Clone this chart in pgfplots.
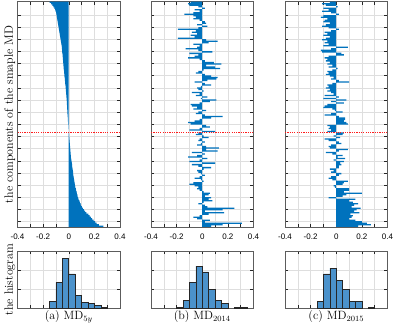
\documentclass[border=0pt]{standalone}
\usepackage{fontspec}
\newfontfamily\ticksf{Liberation Sans}
\usepackage{pgfplots}
\usepackage{pgfplotstable}
\pgfplotsset{compat=1.18}
\definecolor{matblue}{RGB}{0,114,189}
\definecolor{histblue}{RGB}{75,146,203}
\definecolor{axgray}{RGB}{38,38,38}

% components of the sample MD, top to bottom: a = 5y (sorted), b = 2014, c = 2015
\pgfplotstableread{
a b c
-0.150 -0.09 -0.05
-0.138 -0.11 -0.11
-0.128 -0.10 -0.08
-0.120 -0.03 0.01
-0.113 0.02 -0.10
-0.107 -0.06 -0.06
-0.102 -0.02 -0.11
-0.099 -0.07 -0.04
-0.097 -0.14 0.02
-0.095 -0.07 -0.10
-0.093 -0.05 -0.12
-0.091 -0.07 -0.07
-0.089 -0.02 -0.09
-0.087 0.02 -0.10
-0.085 0.03 -0.05
-0.083 -0.04 -0.08
-0.081 0.04 -0.11
-0.079 -0.03 -0.06
-0.077 -0.19 0.02
-0.075 -0.05 -0.04
-0.073 -0.08 -0.09
-0.071 -0.04 -0.07
-0.069 -0.09 -0.10
-0.067 -0.06 -0.05
-0.065 -0.19 -0.08
-0.063 0.03 -0.11
-0.061 0.12 -0.07
-0.059 0.05 -0.09
-0.057 -0.07 -0.06
-0.055 -0.02 -0.10
-0.054 -0.04 0.09
-0.053 -0.13 -0.04
-0.052 -0.03 -0.12
-0.051 0.08 -0.11
-0.049 -0.10 0.04
-0.048 -0.03 0.06
-0.047 -0.06 -0.06
-0.046 -0.11 -0.09
-0.045 -0.02 -0.07
-0.044 0.02 -0.08
-0.043 0.09 -0.05
-0.042 0.15 -0.07
-0.041 0.03 -0.03
-0.040 0.10 -0.06
-0.039 0.14 0.01
-0.038 0.01 -0.03
-0.037 -0.03 -0.07
-0.036 -0.05 -0.06
-0.035 0.02 -0.08
-0.034 0.07 -0.05
-0.033 0.12 -0.02
-0.031 0.11 -0.04
-0.030 0.04 0.02
-0.029 -0.06 0.10
-0.028 0.02 -0.03
-0.027 0.07 -0.07
-0.025 -0.01 -0.06
-0.024 -0.04 -0.08
-0.023 -0.03 -0.05
-0.022 0.01 -0.07
-0.021 -0.08 -0.04
-0.020 -0.02 -0.02
-0.019 -0.05 -0.09
-0.018 0.04 0.02
-0.017 -0.01 -0.10
-0.016 0.11 0.08
-0.015 0.06 -0.04
-0.014 -0.02 0.06
-0.014 -0.09 -0.07
-0.013 -0.08 -0.09
-0.012 -0.04 -0.10
-0.012 -0.07 -0.03
-0.011 0.03 -0.01
-0.010 -0.03 0.05
-0.010 -0.05 -0.04
-0.009 0.02 -0.09
-0.008 0.16 0.02
-0.007 0.07 0.07
-0.006 -0.02 0.07
-0.006 -0.06 0.06
-0.005 -0.11 0.08
-0.004 -0.09 0.09
-0.003 0.03 -0.07
-0.003 0.06 -0.05
-0.002 -0.02 -0.06
-0.001 -0.10 -0.04
-0.001 0.10 -0.07
0.001 -0.03 0.06
0.002 -0.05 0.05
0.003 0.01 -0.02
0.004 0.05 0.03
0.005 -0.02 -0.09
0.006 -0.03 -0.06
0.007 0.02 0.02
0.008 -0.01 0.04
0.009 -0.04 -0.04
0.010 0.03 -0.06
0.011 0.13 -0.05
0.012 0.03 0.09
0.013 0.12 0.02
0.014 -0.08 -0.08
0.015 0.02 -0.03
0.016 -0.04 0.05
0.017 -0.11 0.01
0.019 0.04 0.07
0.020 -0.02 -0.02
0.022 -0.10 0.06
0.024 0.10 0.03
0.026 -0.08 0.04
0.027 -0.03 0.02
0.029 0.07 0.02
0.030 0.01 -0.05
0.032 -0.04 -0.02
0.034 -0.03 -0.04
0.035 -0.01 0.04
0.037 0.02 0.02
0.039 -0.02 -0.04
0.040 -0.06 -0.06
0.042 -0.01 -0.03
0.044 0.01 0.09
0.045 -0.07 0.06
0.047 -0.10 0.05
0.049 -0.06 -0.02
0.052 -0.03 -0.01
0.055 -0.04 0.10
0.058 -0.02 0.10
0.061 0.01 0.06
0.064 0.06 0.20
0.067 0.05 0.08
0.070 0.02 0.05
0.074 0.07 -0.06
0.078 0.05 0.15
0.082 0.08 0.10
0.087 0.01 0.13
0.092 -0.03 0.17
0.097 0.02 0.14
0.103 0.04 0.12
0.110 0.25 0.19
0.118 0.16 0.16
0.127 0.02 0.14
0.138 0.17 0.18
0.153 0.05 0.11
0.162 -0.02 0.13
0.172 -0.07 0.12
0.183 -0.04 0.10
0.194 0.06 0.15
0.205 0.02 0.20
0.218 0.31 0.24
0.235 0.16 0.27
0.270 0.07 0.17
}\mdtable

\pgfplotsset{
  mdbase/.style={
    scale only axis, width=102.5pt,
    xmin=-0.4, xmax=0.4,
    axis line style={axgray!75, line width=0.5pt},
    tick style={axgray, line width=0.4pt},
    tick align=inside, major tick length=3pt,
    xtick pos=both, ytick pos=both,
    grid=major, major grid style={black!13, line width=0.4pt},
    xtick={-0.4,-0.3,-0.2,-0.1,0,0.1,0.2,0.3,0.4},
    yticklabels={},
    label style={font=\fontsize{12}{14}\selectfont},
    ylabel style={at={(axis description cs:0,0.5)}, anchor=south, inner sep=2pt},
    xlabel style={at={(axis description cs:0.5,0)}, anchor=north, inner sep=2.5pt},
  },
  mdtop/.style={
    mdbase, height=225.5pt,
    ymin=0.5, ymax=150.5, y dir=reverse,
    ytick={9.35,17.44,...,148},
    xticklabels={-0.4,{},-0.2,{},0,{},0.2,{},0.4},
    xticklabel style={font=\ticksf\fontsize{8}{9}\selectfont, yshift=-3pt},
  },
  mdhist/.style={
    mdbase, height=57pt,
    ymin=0, ymax=60, ytick={0,20,40,60},
    xticklabels={},
  },
  mdbars/.style={xbar, bar width=0.85, fill=matblue, draw=none},
  mdred/.style={color={rgb,255:red,255;green,30;blue,30}, line width=1.4pt, dash pattern=on 1.2pt off 1.1pt},
  mdhbar/.style={ybar interval, fill=histblue, draw=axgray, line width=0.5pt},
}

\begin{document}
\begin{tikzpicture}
\useasboundingbox (0pt,0pt) rectangle (399pt,325pt);

% top row: the components
\begin{axis}[mdtop, at={(17.5pt,98pt)}, anchor=south west,
  ylabel={the components of the smaple MD}]
\addplot[mdbars] table[x=a, y expr=\coordindex+1] {\mdtable};
\addplot[mdred] coordinates {(-0.4,87.5) (0.4,87.5)};
\end{axis}

\begin{axis}[mdtop, at={(151pt,98pt)}, anchor=south west]
\addplot[mdbars] table[x=b, y expr=\coordindex+1] {\mdtable};
\addplot[mdred] coordinates {(-0.4,87.5) (0.4,87.5)};
\end{axis}

\begin{axis}[mdtop, at={(285pt,98pt)}, anchor=south west]
\addplot[mdbars] table[x=c, y expr=\coordindex+1] {\mdtable};
\addplot[mdred] coordinates {(-0.4,87.5) (0.4,87.5)};
\end{axis}

% bottom row: the histograms
\begin{axis}[mdhist, at={(17.5pt,17pt)}, anchor=south west,
  ylabel={the histogram}, xlabel={(a) MD$_{5y}$}]
\addplot[mdhbar] coordinates {(-0.15,7) (-0.10,27) (-0.05,52) (0,36) (0.05,13) (0.10,6) (0.15,5) (0.20,3) (0.25,1) (0.30,0)};
\end{axis}

\begin{axis}[mdhist, at={(151pt,17pt)}, anchor=south west,
  xlabel={(b) MD$_{2014}$}]
\addplot[mdhbar] coordinates {(-0.20,1) (-0.15,8) (-0.10,27) (-0.05,44) (0,38) (0.05,20) (0.10,8) (0.15,5) (0.20,0)};
\addplot[mdhbar] coordinates {(0.25,1) (0.30,1) (0.35,0)};
\end{axis}

\begin{axis}[mdhist, at={(285pt,17pt)}, anchor=south west,
  xlabel={(c) MD$_{2015}$}]
\addplot[mdhbar] coordinates {(-0.15,7) (-0.10,36) (-0.05,42) (0,29) (0.05,20) (0.10,7) (0.15,7) (0.20,0)};
\addplot[mdhbar] coordinates {(0.25,1) (0.30,0)};
\end{axis}
\end{tikzpicture}
\end{document}
